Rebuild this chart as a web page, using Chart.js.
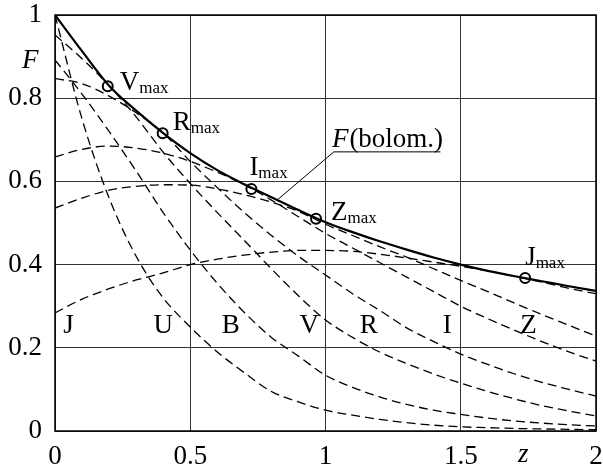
<!DOCTYPE html>
<html>
<head>
<meta charset="utf-8">
<script src="https://cdn.jsdelivr.net/npm/chart.js@4.4.1/dist/chart.umd.min.js"></script>
<style>
    html, body { margin: 0; padding: 0; background: #fff; }
    canvas { display: block; }
</style>
</head>
<body>
<canvas id="chart" width="603" height="473"></canvas>
<script>
// z grid shared by all curves
const zs = [0, 0.1, 0.2, 0.3, 0.4, 0.5, 0.6, 0.7, 0.8, 0.9, 1.0,
            1.1, 1.2, 1.3, 1.4, 1.5, 1.6, 1.7, 1.8, 1.9, 2.0];

// bolometric curve (solid)
const bolom = [1.0, 0.913, 0.83, 0.77, 0.716, 0.668, 0.627, 0.593, 0.562, 0.531, 0.502,
               0.478, 0.456, 0.436, 0.417, 0.40, 0.385, 0.372, 0.36, 0.348, 0.337];

// band curves (dashed)
const bandU = [1.0, 0.75, 0.56, 0.42, 0.32, 0.25, 0.19, 0.14, 0.095, 0.07, 0.05,
               0.038, 0.028, 0.02, 0.014, 0.01, 0.008, 0.006, 0.005, 0.004, 0.003];
const bandB = [0.892, 0.81, 0.72, 0.625, 0.525, 0.435, 0.355, 0.285, 0.225, 0.18, 0.134,
               0.105, 0.082, 0.064, 0.05, 0.04, 0.031, 0.024, 0.019, 0.015, 0.012];
const bandV = [0.952, 0.895, 0.83, 0.755, 0.67, 0.595, 0.525, 0.458, 0.39, 0.325, 0.267,
               0.225, 0.19, 0.162, 0.137, 0.115, 0.095, 0.077, 0.061, 0.048, 0.036];
const bandR = [0.847, 0.835, 0.805, 0.765, 0.716, 0.648, 0.585, 0.525, 0.47, 0.42, 0.375,
               0.33, 0.29, 0.248, 0.215, 0.185, 0.16, 0.137, 0.117, 0.10, 0.084];
const bandI = [0.659, 0.677, 0.685, 0.68, 0.668, 0.648, 0.622, 0.592, 0.555, 0.515, 0.475,
               0.44, 0.405, 0.37, 0.335, 0.30, 0.27, 0.242, 0.215, 0.19, 0.168];
const bandZ = [0.536, 0.56, 0.579, 0.588, 0.592, 0.591, 0.582, 0.568, 0.55, 0.528, 0.497,
               0.47, 0.443, 0.418, 0.39, 0.362, 0.335, 0.307, 0.28, 0.254, 0.228];
const bandJ = [0.284, 0.317, 0.342, 0.363, 0.38, 0.40, 0.413, 0.423, 0.43, 0.434, 0.434,
               0.432, 0.425, 0.416, 0.406, 0.396, 0.385, 0.372, 0.358, 0.343, 0.33];

// points of maximum on the bolometric curve
const maxNames = ['V', 'R', 'I', 'Z', 'J'];
const maxZ = [0.195, 0.398, 0.726, 0.965, 1.738];
const maxF = [0.829, 0.716, 0.582, 0.51, 0.368];

// band names written along the bottom row
const bandNames = ['J', 'U', 'B', 'V', 'R', 'I', 'Z'];

// axis ticks
const xTicks = [0, 0.5, 1, 1.5, 2];
const yTicks = [0, 0.2, 0.4, 0.6, 0.8, 1];

const SERIF = '"Liberation Serif", "Times New Roman", serif';

function pts(values) {
    return zs.map((z, i) => ({ x: z, y: values[i] }));
}

function dashed(values) {
    return {
        type: 'line',
        data: pts(values),
        borderColor: '#000',
        borderWidth: 1.3,
        borderDash: [9, 5],
        pointRadius: 0,
        cubicInterpolationMode: 'monotone',
        fill: false
    };
}

// label placement (pixels relative to marker / plot)
const maxLabelOffset = {
    V: [12, 4], R: [10, -3], I: [-2, -14], Z: [15, 1], J: [0, -13]
};
const bandLabelZ = [0.05, 0.40, 0.65, 0.94, 1.16, 1.45, 1.75];

const annotations = {
    id: 'annotations',
    afterDraw(chart) {
        const { ctx, chartArea: a, scales: { x, y } } = chart;
        ctx.save();

        // plot frame
        ctx.strokeStyle = '#000';
        ctx.lineWidth = 1.5;
        ctx.strokeRect(a.left, a.top, a.right - a.left, a.bottom - a.top);

        ctx.fillStyle = '#000';
        ctx.textBaseline = 'alphabetic';
        ctx.textAlign = 'left';

        // subscripted labels at the maxima
        maxNames.forEach((name, i) => {
            const px = x.getPixelForValue(maxZ[i]);
            const py = y.getPixelForValue(maxF[i]);
            const [dx, dy] = maxLabelOffset[name];
            ctx.font = '27px ' + SERIF;
            ctx.fillText(name, px + dx, py + dy);
            const w = ctx.measureText(name).width;
            ctx.font = '17px ' + SERIF;
            ctx.fillText('max', px + dx + w, py + dy + 3);
        });

        // band names
        ctx.font = '27px ' + SERIF;
        ctx.textAlign = 'center';
        const rowY = y.getPixelForValue(0.26) + 10;
        bandNames.forEach((name, i) => {
            ctx.fillText(name, x.getPixelForValue(bandLabelZ[i]), rowY);
        });

        // axis names
        ctx.font = 'italic 27px ' + SERIF;
        ctx.textAlign = 'left';
        ctx.fillText('F', 22, 68);
        ctx.fillText('z', 518, 462);

        // F(bolom.) label with leader line
        const ux0 = x.getPixelForValue(1.031);
        const ux1 = x.getPixelForValue(1.425);
        const uy = y.getPixelForValue(0.671);
        ctx.font = 'italic 27px ' + SERIF;
        ctx.fillText('F', ux0 - 2, uy - 5);
        const fw = ctx.measureText('F').width;
        ctx.font = '27px ' + SERIF;
        ctx.fillText('(bolom.)', ux0 - 2 + fw + 1, uy - 5);

        ctx.lineWidth = 1;
        ctx.beginPath();
        ctx.moveTo(ux1, uy);
        ctx.lineTo(ux0, uy);
        ctx.lineTo(x.getPixelForValue(0.821), y.getPixelForValue(0.555));
        ctx.stroke();

        ctx.restore();
    }
};

const chart = new Chart(document.getElementById('chart'), {
    data: {
        datasets: [
            dashed(bandU), dashed(bandB), dashed(bandV), dashed(bandR),
            dashed(bandI), dashed(bandZ), dashed(bandJ),
            {
                type: 'line',
                data: pts(bolom),
                borderColor: '#000',
                borderWidth: 2.2,
                pointRadius: 0,
                cubicInterpolationMode: 'monotone',
                fill: false
            },
            {
                type: 'scatter',
                data: maxZ.map((z, i) => ({ x: z, y: maxF[i] })),
                pointRadius: 5,
                pointBorderWidth: 2,
                pointBorderColor: '#000',
                pointBackgroundColor: '#fff'
            }
        ]
    },
    options: {
        responsive: false,
        animation: false,
        layout: { padding: { top: 15, right: 5, left: 0, bottom: 0 } },
        plugins: {
            legend: { display: false },
            tooltip: { enabled: false }
        },
        scales: {
            x: {
                type: 'linear',
                min: 0,
                max: 2,
                afterFit: s => {
                    s.height = 42;
                    s.paddingLeft = 0;
                    s.paddingRight = 0;
                },
                afterBuildTicks: s => { s.ticks = xTicks.map(v => ({ value: v })); },
                grid: { color: '#333', lineWidth: 1, drawTicks: false },
                border: { display: false },
                ticks: {
                    color: '#000',
                    padding: 10,
                    maxRotation: 0,
                    font: { family: SERIF, size: 27 },
                    callback: v => String(v)
                }
            },
            y: {
                type: 'linear',
                min: 0,
                max: 1,
                afterFit: s => {
                    s.width = 55;
                    s.paddingTop = 0;
                    s.paddingBottom = 0;
                },
                afterBuildTicks: s => { s.ticks = yTicks.map(v => ({ value: v })); },
                grid: { color: '#333', lineWidth: 1, drawTicks: false },
                border: { display: false },
                ticks: {
                    color: '#000',
                    padding: 13,
                    font: { family: SERIF, size: 27 },
                    callback: v => String(v)
                }
            }
        }
    },
    plugins: [annotations]
});
</script>
</body>
</html>
